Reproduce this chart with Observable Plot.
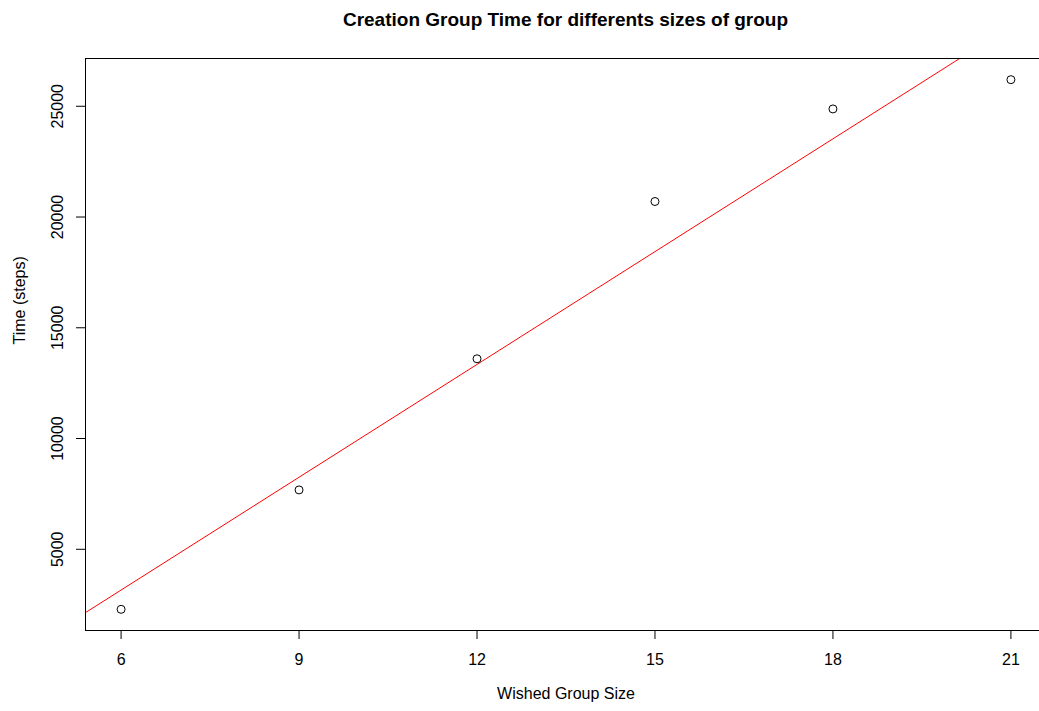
<!DOCTYPE html>
<html><head><meta charset="utf-8">
<script src="https://cdn.jsdelivr.net/npm/d3@7"></script>
<script src="https://cdn.jsdelivr.net/npm/@observablehq/plot@0.6"></script>
<style>
body{margin:0;background:#fff}
#wrap{position:relative;width:1039px;height:711px;overflow:hidden;font-family:"Liberation Sans",Arial,sans-serif;background:#fff}
#title{position:absolute;top:9px;left:0;width:1131px;text-align:center;font-weight:bold;font-size:19px;line-height:22px;color:#000}
#chart{position:absolute;top:0;left:0}
</style>
</head><body>
<div id="wrap"><div id="chart"></div><div id="title">Creation Group Time for differents sizes of group</div></div>
<script>
const groupSizes = [6, 9, 12, 15, 18, 21];
const times = [2290, 7680, 13600, 20700, 24880, 26200];
const xTicks = [6, 9, 12, 15, 18, 21];
const yTicks = [5000, 10000, 15000, 20000, 25000];
const xLabel = "Wished Group Size";
const yLabel = "Time (steps)";

const data = groupSizes.map((g, i) => ({g, t: times[i]}));

// R-style 4% extended domains
function ext(v) { const [a, b] = d3.extent(v); const p = (b - a) * 0.04; return [a - p, b + p]; }
const xDom = ext(groupSizes);
const yDom = ext(times);

// least squares fit (abline(lm(...)))
const mx = d3.mean(groupSizes), my = d3.mean(times);
const slope = d3.sum(data, d => (d.g - mx) * (d.t - my)) / d3.sum(data, d => (d.g - mx) ** 2);
const intercept = my - slope * mx;
const fitLine = xDom.map(x => ({g: x, t: intercept + slope * x}));

const font = '"Liberation Sans", Arial, sans-serif';

const chart = Plot.plot({
  width: 1039, height: 711,
  marginLeft: 85, marginRight: -7, marginTop: 58, marginBottom: 81,
  style: {fontFamily: font, fontSize: "16px", color: "#000", background: "transparent", overflow: "visible"},
  x: {domain: xDom, range: [85, 1046]},
  y: {domain: yDom, range: [630, 58]},
  marks: [
    Plot.line(fitLine, {x: "g", y: "t", stroke: "#ff0000", strokeWidth: 1, clip: true}),
    Plot.dot(data, {x: "g", y: "t", r: 4, stroke: "#000", strokeWidth: 1, fill: "none"}),
    Plot.frame({stroke: "#000", strokeWidth: 1}),
    Plot.axisX({ticks: xTicks, tickSize: 9, tickPadding: 14, fontSize: 16, tickFormat: d => String(d), label: null, stroke: "#000"}),
    Plot.axisY({ticks: yTicks, tickSize: 9, tickFormat: () => "", label: null, stroke: "#000"}),
    Plot.text(yTicks, {frameAnchor: "left", y: d => d, text: d => String(d), dx: -23, rotate: -90, textAnchor: "middle", lineAnchor: "bottom", fontSize: 16, fill: "#000"}),
    Plot.text([xLabel], {frameAnchor: "bottom", dy: 68, fontSize: 16, fill: "#000"}),
    Plot.text([yLabel], {frameAnchor: "left", dx: -66, rotate: -90, fontSize: 16, fill: "#000"})
  ]
});
document.getElementById("chart").appendChild(chart);
</script>
</body></html>
